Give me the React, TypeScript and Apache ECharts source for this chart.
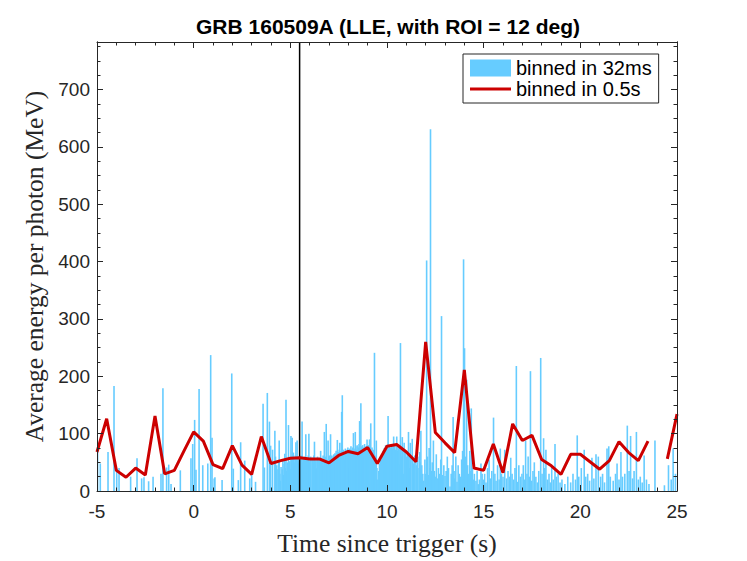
import React, { useEffect, useRef } from "react";
import * as echarts from "echarts";

// ---- axis ranges ----
const X_MIN = -5;
const X_MAX = 25;
const X_STEP = 5;
const Y_MIN = 0;
const Y_MAX = 783;
const Y_STEP = 100;
const Y_MINOR_STEP = 25;

// ---- trigger marker (s) ----
const triggerTime = 5.48;

// ---- 32 ms bins: sparse early part [time, MeV] ----
const earlyBars: [number, number][] = [
  [-4.97, 68], [-4.83, 48], [-4.43, 68], [-4.12, 183], [-3.98, 39], [-3.86, 40],
  [-3.26, 25], [-2.93, 57], [-2.69, 22], [-2.57, 24], [-2.33, 17], [-2.1, 25],
  [-1.69, 30], [-1.59, 179], [-1.4, 41], [-1.29, 46], [-1.17, 12], [-0.69, 36],
  [-0.14, 57], [-0.05, 82], [0.05, 124], [0.12, 37], [0.28, 178], [0.47, 45],
  [0.73, 48], [0.88, 237], [0.95, 93], [1.06, 22], [1.1, 24], [1.47, 19],
  [1.97, 205], [2.05, 39], [2.31, 19], [2.43, 85], [2.64, 53], [2.9, 22],
  [3.0, 30], [3.2, 16], [3.59, 152], [3.66, 41], [3.81, 171], [3.92, 121],
  [3.98, 79], [4.08, 72],
];

// ---- 32 ms bins: dense part, consecutive bins from denseStart ----
const binWidth = 0.032;
const denseStart = 4.2;
const denseValues: number[] = [
  105, 60, 32, 45, 0, 38, 52, 88, 30, 18, 42, 0, 38, 55, 28, 47, 65, 40, 159, 35, 50, 0, 115, 44, 52, 38, 96, 55, 93, 48, 67, 58,
  50, 62, 85, 55, 88, 52, 48, 60, 55, 35, 58, 62, 121, 50, 56, 42, 60, 55, 99, 58, 30, 54, 62, 100, 52, 48, 60, 0, 55, 58, 50, 62,
  86, 55, 52, 40, 58, 60, 54, 0, 56, 50, 70, 58, 52, 55, 62, 45, 103, 58, 60, 117, 55, 48, 88, 60, 62, 25, 99, 58, 62, 55, 60, 64,
  58, 66, 62, 70, 64, 89, 60, 68, 72, 84, 66, 70, 138, 167, 62, 72, 68, 55, 74, 70, 66, 72, 76, 68, 40, 74, 70, 78, 72, 68, 76, 101,
  74, 70, 103, 78, 72, 80, 68, 76, 82, 122, 74, 153, 78, 70, 80, 76, 60, 82, 74, 78, 70, 90, 72, 80, 76, 90, 74, 118, 70, 76, 66, 72,
  70, 241, 62, 55, 88, 40, 20, 0, 35, 48, 30, 60, 55, 0, 62, 70, 58, 75, 66, 80, 72, 68, 78, 131, 74, 80, 70, 76, 0, 82, 74, 78,
  95, 76, 80, 72, 0, 95, 70, 78, 74, 46, 80, 258, 72, 60, 94, 70, 30, 84, 66, 72, 0, 60, 70, 55, 103, 62, 40, 84, 58, 0, 91, 55,
  48, 20, 62, 0, 52, 45, 30, 60, 0, 40, 68, 50, 105,
];

// ---- 32 ms bins: sparse late part [time, MeV] ----
const lateBars: [number, number][] = [
  [11.8, 45], [11.85, 30], [11.9, 18], [11.96, 55], [12.0, 30], [12.05, 402], [12.09, 60], [12.13, 28],
  [12.18, 75], [12.22, 40], [12.25, 631], [12.29, 35], [12.34, 50], [12.4, 88], [12.45, 35], [12.5, 25],
  [12.55, 64], [12.6, 22], [12.66, 40], [12.72, 30], [12.78, 55], [12.82, 305], [12.88, 28], [12.94, 45],
  [13.0, 26], [13.06, 35], [13.12, 60], [13.18, 40], [13.26, 8], [13.32, 30], [13.37, 45], [13.42, 129],
  [13.47, 35], [13.5, 22], [13.56, 60], [13.62, 16], [13.68, 45], [13.74, 30], [13.8, 25], [13.86, 55],
  [13.91, 70], [13.96, 404], [14.01, 249], [14.06, 60], [14.12, 194], [14.17, 45], [14.22, 30], [14.28, 70],
  [14.32, 35], [14.36, 144], [14.42, 40], [14.47, 20], [14.52, 30], [14.6, 18], [14.66, 35], [14.72, 12],
  [14.78, 20], [14.86, 48], [14.92, 30], [14.98, 20], [15.05, 30], [15.12, 15], [15.2, 40], [15.28, 55],
  [15.35, 22], [15.42, 35], [15.51, 128], [15.58, 30], [15.64, 18], [15.72, 45], [15.8, 20], [15.86, 74],
  [15.92, 30], [16.0, 25], [16.09, 72], [16.18, 22], [16.26, 35], [16.34, 25], [16.4, 58], [16.47, 30],
  [16.55, 20], [16.62, 40], [16.69, 218], [16.75, 16], [16.82, 45], [16.9, 25], [16.98, 30], [17.05, 45],
  [17.12, 20], [17.17, 88], [17.24, 30], [17.3, 60], [17.36, 25], [17.42, 209], [17.48, 18], [17.55, 35],
  [17.62, 50], [17.7, 25], [17.78, 15], [17.85, 35], [17.95, 232], [18.02, 30], [18.1, 92], [18.16, 40],
  [18.22, 72], [18.3, 20], [18.38, 30], [18.45, 15], [18.52, 42], [18.6, 20], [18.69, 82], [18.76, 25],
  [18.85, 30], [18.95, 15], [19.05, 20], [19.2, 12], [19.35, 25], [19.5, 15], [19.62, 30], [19.75, 20],
  [19.84, 97], [19.92, 25], [20.05, 40], [20.2, 72], [20.28, 25], [20.38, 30], [20.48, 18], [20.6, 58],
  [20.7, 22], [20.81, 64], [20.93, 60], [21.05, 25], [21.15, 30], [21.25, 15], [21.38, 74], [21.47, 78],
  [21.55, 25], [21.7, 18], [21.82, 30], [21.9, 48], [22.0, 20], [22.1, 68], [22.18, 25], [22.3, 30],
  [22.43, 114], [22.52, 35], [22.6, 96], [22.7, 22], [22.78, 35], [22.9, 103], [23.0, 20], [23.1, 25],
  [23.2, 15], [23.3, 62], [23.42, 20], [23.55, 12], [23.86, 88], [24.35, 10], [24.56, 45], [24.7, 20],
  [24.8, 74], [24.92, 30],
];

// ---- 0.5 s bins (null = no data) ----
const avgStart = -5;
const avgStep = 0.5;
const avgValues: (number | null)[] = [
  68, 126, 36, 24, 40, 28, 131, 30, 36, 70,
  103, 87, 46, 39, 79, 45, 29, 95, 48, 53,
  57, 58, 56, 56, 49, 62, 69, 65, 76, 48,
  78, 81, 68, 51, 260, 102, 84, 67, 211, 40,
  36, 82, 32, 117, 88, 97, 55, 44, 29, 64,
  64, 51, 38, 53, 86, 67, 53, 87, null, 56,
  134,
];

const SANS = '"Liberation Sans", Arial, Helvetica, sans-serif';
const SERIF = '"Liberation Serif", "Times New Roman", serif';
const AX = "#262626";
const BAR_COLOR = "#66ccff";
const BAR_PX = 1.6;

export default function App() {
  const ref = useRef<HTMLDivElement>(null);

  useEffect(() => {
    document.body.style.margin = "0";
    if (!ref.current) return;
    const chart = echarts.init(ref.current, undefined, { renderer: "svg" });

    const denseBars: [number, number][] = denseValues
      .map((v, i) => [denseStart + i * binWidth, v] as [number, number])
      .filter((d) => d[1] > 0);
    const barData = [...earlyBars, ...denseBars, ...lateBars];
    const avgData = avgValues.map((v, i) => [avgStart + i * avgStep, v === null ? "-" : v]);

    const xAxisBase = (position: string, showLabel: boolean, name?: string) => ({
      type: "value",
      position,
      min: X_MIN,
      max: X_MAX,
      interval: X_STEP,
      z: 10,
      name,
      nameLocation: "middle",
      nameGap: 39,
      nameTextStyle: { fontFamily: SERIF, fontSize: 25.5, color: AX },
      axisLine: { show: true, onZero: false, lineStyle: { color: AX, width: 1 } },
      axisTick: { show: true, inside: true, length: 6, lineStyle: { color: AX, width: 1 } },
      minorTick: { show: true, splitNumber: 5, length: 3.5, lineStyle: { color: AX, width: 1 } },
      axisLabel: { show: showLabel, fontFamily: SANS, fontSize: 19, color: AX, margin: 11 },
      splitLine: { show: false },
      minorSplitLine: { show: false },
    });

    const yAxisBase = (position: string, step: number, tickLen: number, showLabel: boolean, name?: string) => ({
      type: "value",
      position,
      min: Y_MIN,
      max: Y_MAX,
      interval: step,
      z: 10,
      name,
      nameLocation: "middle",
      nameGap: 44,
      nameRotate: 90,
      nameTextStyle: { fontFamily: SERIF, fontSize: 25.5, color: AX },
      axisLine: { show: true, onZero: false, lineStyle: { color: AX, width: 1 } },
      axisTick: { show: true, inside: true, length: tickLen, lineStyle: { color: AX, width: 1 } },
      axisLabel: {
        show: showLabel,
        fontFamily: SANS,
        fontSize: 19,
        color: AX,
        margin: 7,
        formatter: (v: number) => (v % Y_STEP === 0 ? String(v) : ""),
      },
      splitLine: { show: false },
    });

    chart.setOption({
      animation: false,
      backgroundColor: "#ffffff",
      title: {
        text: "{a|GRB 160509A} {b|(LLE, with ROI = 12 deg)}",
        left: 383,
        top: 11,
        textAlign: "center",
        textStyle: {
          fontSize: 19,
          fontWeight: "bold",
          fontFamily: SANS,
          rich: {
            a: { fontSize: 21, fontWeight: "bold", fontFamily: SANS, color: "#000" },
            b: { fontSize: 21, fontWeight: "bold", fontFamily: SANS, color: "#000" },
          },
        },
      },
      legend: {
        orient: "vertical",
        left: 463,
        top: 54,
        padding: [4, 7, 4, 7],
        itemWidth: 41,
        itemHeight: 17,
        itemGap: 1,
        backgroundColor: "#ffffff",
        borderColor: AX,
        borderWidth: 1,
        borderRadius: 0,
        selectedMode: false,
        textStyle: { fontFamily: SANS, fontSize: 20, color: "#000", padding: [0, 0, 0, 0] },
        itemStyle: { borderWidth: 0 },
        data: [
          { name: "binned in 32ms", icon: "rect", itemStyle: { color: BAR_COLOR } },
          { name: "binned in 0.5s", icon: "path://M0,0H41V3H0Z" },
        ],
      },
      grid: { left: 97, right: 70, top: 42, bottom: 65, containLabel: false },
      xAxis: [
        xAxisBase("bottom", true, "Time since trigger (s)"),
        xAxisBase("top", false),
      ],
      yAxis: [
        yAxisBase("left", Y_STEP, 6, true, "Average energy per photon (MeV)"),
        yAxisBase("left", Y_MINOR_STEP, 3.5, false),
        yAxisBase("right", Y_STEP, 6, false),
        yAxisBase("right", Y_MINOR_STEP, 3.5, false),
      ],
      series: [
        {
          name: "binned in 32ms",
          type: "custom",
          xAxisIndex: 0,
          yAxisIndex: 0,
          data: barData,
          itemStyle: { color: BAR_COLOR },
          encode: { x: 0, y: 1 },
          z: 2,
          silent: true,
          clip: true,
          renderItem: (_params: any, api: any) => {
            const t = api.value(0);
            const v = api.value(1);
            const top = api.coord([t, v]);
            const base = api.coord([t, 0]);
            return {
              type: "rect",
              shape: { x: top[0] - BAR_PX / 2, y: top[1], width: BAR_PX, height: base[1] - top[1] },
              style: { fill: BAR_COLOR },
            };
          },
        },
        {
          name: "trigger",
          type: "line",
          xAxisIndex: 0,
          yAxisIndex: 0,
          data: [
            [triggerTime, Y_MIN],
            [triggerTime, Y_MAX],
          ],
          symbol: "none",
          lineStyle: { color: "#000000", width: 1.5 },
          itemStyle: { color: "#000000" },
          z: 3,
          silent: true,
        },
        {
          name: "binned in 0.5s",
          type: "line",
          xAxisIndex: 0,
          yAxisIndex: 0,
          data: avgData,
          symbol: "none",
          connectNulls: false,
          lineStyle: { color: "#cc0000", width: 3 },
          itemStyle: { color: "#cc0000" },
          z: 4,
          silent: true,
        },
      ],
    });

    return () => chart.dispose();
  }, []);

  return <div ref={ref} style={{ width: 747, height: 561, overflow: "hidden" }} />;
}
